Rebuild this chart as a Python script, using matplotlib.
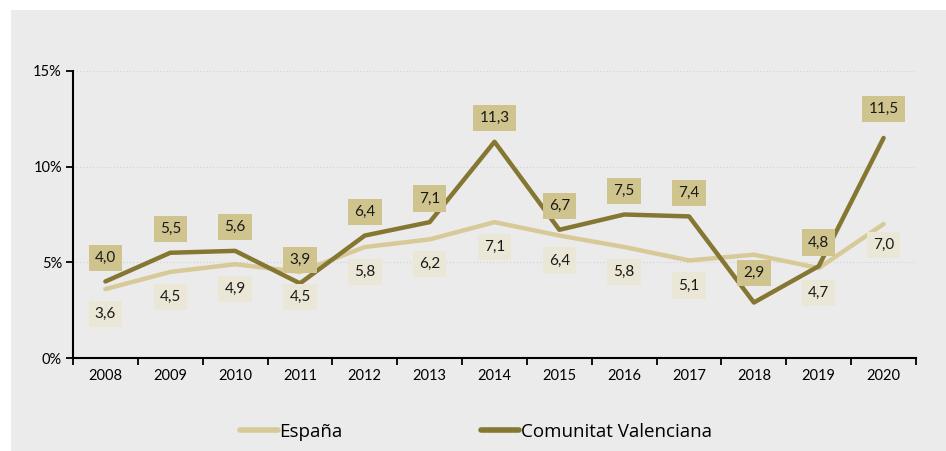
import matplotlib
matplotlib.use("Agg")
import matplotlib.pyplot as plt
from matplotlib.patches import Rectangle

# ---------- Data ----------
years = ["2008", "2009", "2010", "2011", "2012", "2013", "2014",
         "2015", "2016", "2017", "2018", "2019", "2020"]
espana = [3.6, 4.5, 4.9, 4.5, 5.8, 6.2, 7.1, 6.4, 5.8, 5.1, 5.4, 4.7, 7.0]
valenciana = [4.0, 5.5, 5.6, 3.9, 6.4, 7.1, 11.3, 6.7, 7.5, 7.4, 2.9, 4.8, 11.5]
yticks = [0, 5, 10, 15]
ytick_labels = ["0%", "5%", "10%", "15%"]

# España 2018 label is hidden under the line in the original -> skip it
espana_hide = {10}

# ---------- Style ----------
C_VAL = "#857631"
C_ESP = "#d7ca98"
BOX_VAL = "#cfc38e"
BOX_ESP = "#ebe7d6"
BG = "#ebebeb"
FONT = ["Lato", "DejaVu Sans"]

plt.rcParams["font.family"] = FONT

fig = plt.figure(figsize=(9.46, 4.51), dpi=100, facecolor="white")
fig.patches.append(Rectangle((11 / 946, 0), 1, 1 - 10 / 451, transform=fig.transFigure,
                             facecolor=BG, edgecolor="none", zorder=-10))
ax = fig.add_axes([73 / 946, 1 - 358 / 451, (916 - 73) / 946, (358 - 71) / 451])
ax.set_facecolor(BG)

x = list(range(len(years)))
ax.plot(x, espana, color=C_ESP, lw=3.2, solid_capstyle="round", zorder=3, label="España")
ax.plot(x, valenciana, color=C_VAL, lw=3.2, solid_capstyle="round", zorder=4,
        label="Comunitat Valenciana")

def fmt(v):
    return f"{v:.1f}".replace(".", ",")

for i, v in enumerate(valenciana):
    dy = 17
    if i in (10, 12):
        dy = 21
    ax.annotate(fmt(v), (i, v), xytext=(0, dy), textcoords="offset points",
                ha="center", va="center", fontsize=11, color="#1a1a1a", zorder=6,
                bbox=dict(boxstyle="square,pad=0.4", fc=BOX_VAL, ec="none"))
for i, v in enumerate(espana):
    if i in espana_hide:
        continue
    dy = -18
    if i == 12:
        dy = -15
    ax.annotate(fmt(v), (i, v), xytext=(0, dy), textcoords="offset points",
                ha="center", va="center", fontsize=11, color="#1a1a1a", zorder=5,
                bbox=dict(boxstyle="square,pad=0.4", fc=BOX_ESP, ec="none"))

ax.set_xlim(-0.5, len(years) - 0.5)
ax.set_ylim(0, 15)
ax.set_yticks(yticks)
ax.set_yticklabels(ytick_labels)
ax.set_xticks(x)
ax.set_xticklabels(years)
ax.set_xticks([i - 0.5 for i in range(len(years) + 1)], minor=True)
ax.tick_params(axis="x", which="major", length=0, pad=8, labelsize=10.5)
ax.tick_params(axis="x", which="minor", length=5, width=1.3, direction="out")
ax.tick_params(axis="y", length=5, width=1.3, pad=3, labelsize=10.5)

for yv in yticks[1:]:
    ax.axhline(yv, color="#d2d2d2", lw=0.8, ls=(0, (1, 2)), zorder=1)

for s in ("top", "right"):
    ax.spines[s].set_visible(False)
for s in ("left", "bottom"):
    ax.spines[s].set_linewidth(1.5)
    ax.spines[s].set_color("black")

leg = fig.legend(loc="center left", bbox_to_anchor=(240 / 946, 1 - 432 / 451), ncol=2,
                 frameon=False, borderpad=0, borderaxespad=0,
                 prop={"family": ["Open Sans", "DejaVu Sans"], "size": 13.5},
                 handlelength=2.0, handletextpad=0.1, columnspacing=7.4)
for h in leg.legend_handles:
    h.set_linewidth(4)

fig.savefig("out.png", dpi=100, facecolor=fig.get_facecolor())
